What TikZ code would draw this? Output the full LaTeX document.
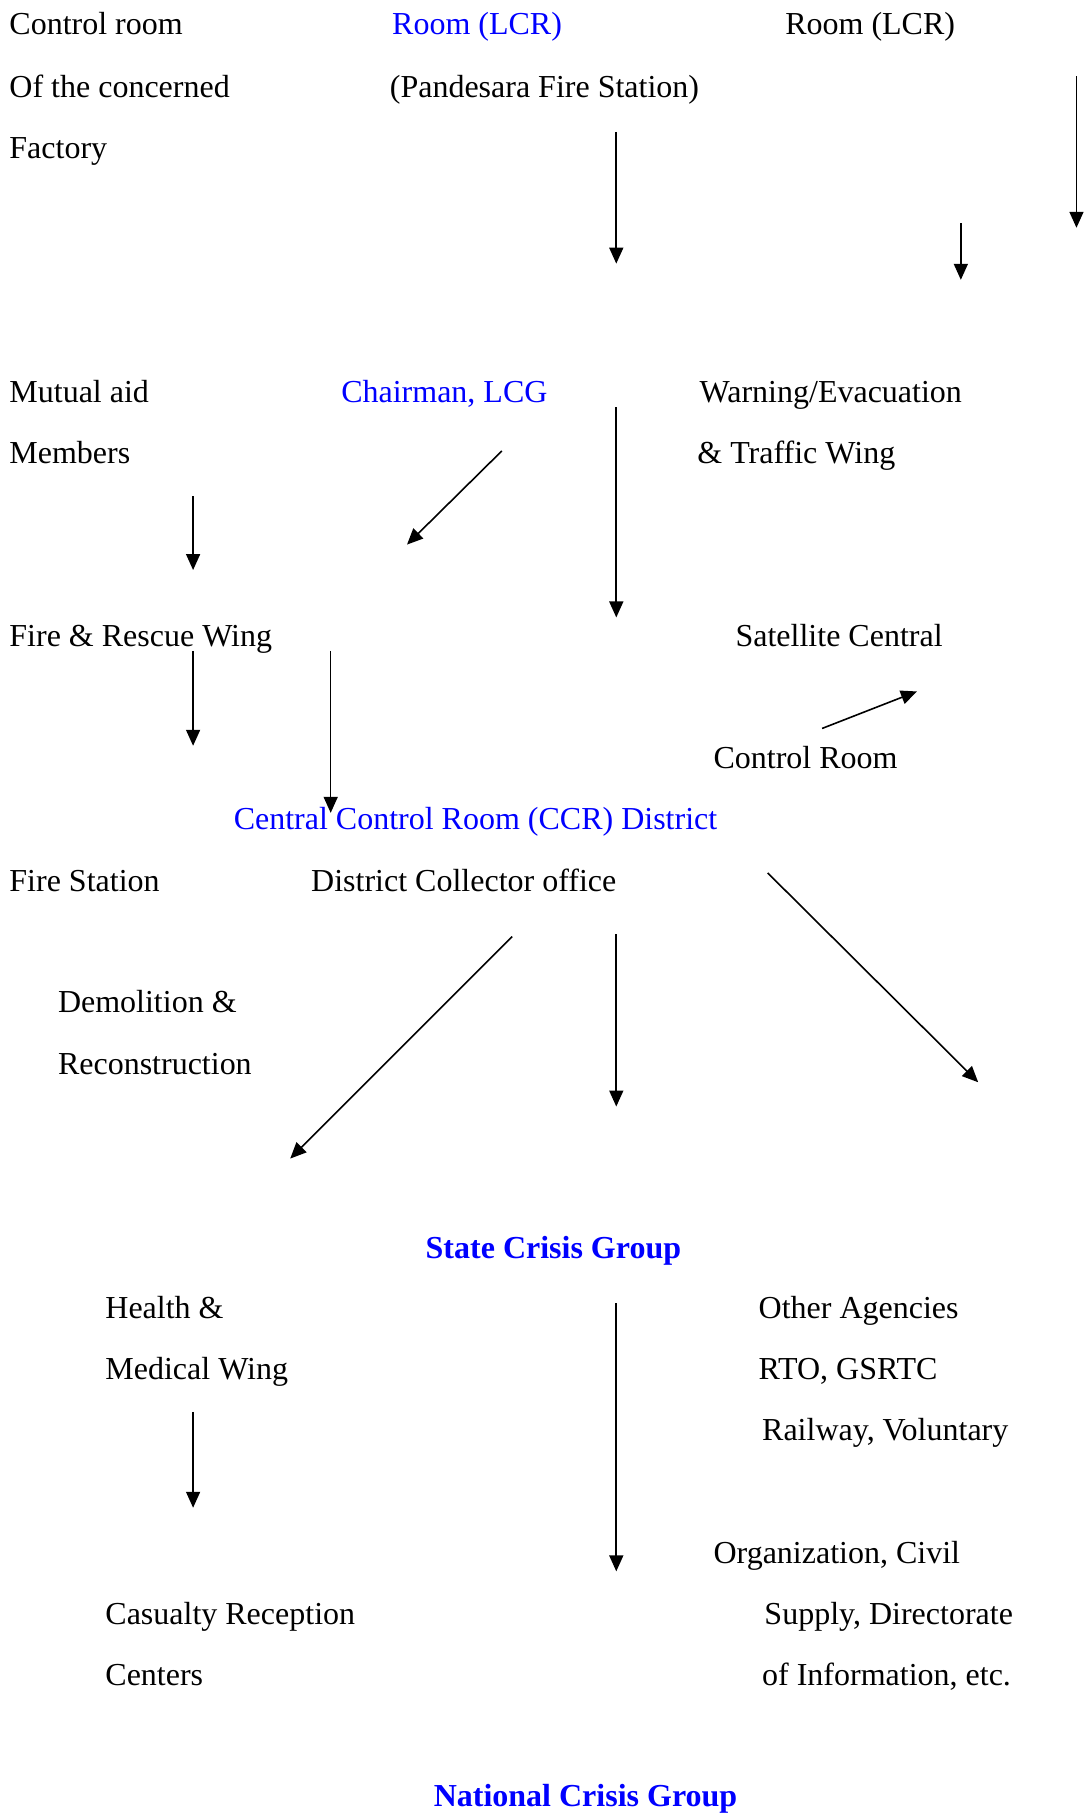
\documentclass[tikz,border=0pt]{standalone}
\usepackage{fontspec}
\setmainfont{Liberation Serif}
\usepackage{tikz}
\usetikzlibrary{positioning,arrows.meta}
\definecolor{lcrblue}{RGB}{0,0,255}
\tikzset{
  txt/.style={anchor=base west, inner sep=0pt, font=\fontsize{32}{38}\selectfont},
  blue/.style={text=lcrblue},
  crisis/.style={txt, font=\fontsize{32}{38}\selectfont\bfseries, text=lcrblue},
  fwd/.style={-{Triangle[length=16pt,width=14pt]}, line width=1.6pt},
}

\begin{document}
\begin{tikzpicture}[x=1.1564pt, y=-1.1564pt]
  \useasboundingbox (0,0) rectangle (940,1568);

  % left column
  \node[txt] (ctrl1) at (8,30) {Control room};
  \node[txt] (ctrl2) at (8,84) {Of the concerned};
  \node[txt] (ctrl3) at (8,137) {Factory};
  \node[txt] (mutual1) at (8,348) {Mutual aid};
  \node[txt] (mutual2) at (8,401) {Members};
  \node[txt] (rescue) at (8,559) {Fire \& Rescue Wing};
  \node[txt] (station) at (8,771) {Fire Station};
  \node[txt] (demol1) at (50,876) {Demolition \&};
  \node[txt] (demol2) at (50,929) {Reconstruction};
  \node[txt] (health1) at (91,1140) {Health \&};
  \node[txt] (health2) at (91,1193) {Medical Wing};
  \node[txt] (casualty1) at (91,1405) {Casualty Reception};
  \node[txt] (casualty2) at (91,1458) {Centers};

  % middle column
  \node[txt, blue] (lcr1) at (339,30) {Room (LCR)};
  \node[txt] (lcr2) at (337,84) {(Pandesara Fire Station)};
  \node[txt, blue] (chair) at (295,348) {Chairman, LCG};
  \node[txt, blue] (ccr) at (202,717) {Central Control Room (CCR) District};
  \node[txt] (collector) at (269,771) {District Collector office};
  \node[crisis] (state) at (368,1088) {State Crisis Group};
  \node[crisis] (national) at (375,1562) {National Crisis Group};

  % right column
  \node[txt] (lcr3) at (679,30) {Room (LCR)};
  \node[txt] (warn1) at (605,348) {Warning/Evacuation};
  \node[txt] (warn2) at (603,401) {\& Traffic Wing};
  \node[txt] (sat1) at (636,559) {Satellite Central};
  \node[txt] (sat2) at (617,665) {Control Room};
  \node[txt] (agency1) at (656,1140) {Other Agencies};
  \node[txt] (agency2) at (656,1193) {RTO, GSRTC};
  \node[txt] (agency3) at (659,1246) {Railway, Voluntary};
  \node[txt] (agency4) at (617,1352) {Organization, Civil};
  \node[txt] (agency5) at (661,1405) {Supply, Directorate};
  \node[txt] (agency6) at (659,1458) {of Information, etc.};

  % arrow ends
  \coordinate (p1a) at (533,114);  \coordinate (p1b) at (533,228);
  \coordinate (p2a) at (931,66);   \coordinate (p2b) at (931,197);
  \coordinate (p3a) at (831,193);  \coordinate (p3b) at (831,242);
  \coordinate (p4a) at (434,390);  \coordinate (p4b) at (352,471);
  \coordinate (p5a) at (533,352);  \coordinate (p5b) at (533,534);
  \coordinate (p6a) at (167,429);  \coordinate (p6b) at (167,493);
  \coordinate (p7a) at (167,563);  \coordinate (p7b) at (167,645);
  \coordinate (p8a) at (286,563);  \coordinate (p8b) at (286,703);
  \coordinate (p9a) at (711,630);  \coordinate (p9b) at (793,598);
  \coordinate (p10a) at (443,810); \coordinate (p10b) at (251,1002);
  \coordinate (p11a) at (533,808); \coordinate (p11b) at (533,957);
  \coordinate (p12a) at (664,755); \coordinate (p12b) at (846,936);
  \coordinate (p13a) at (533,1127); \coordinate (p13b) at (533,1359);
  \coordinate (p14a) at (167,1221); \coordinate (p14b) at (167,1304);

  \draw[fwd] (p1a) -- (p1b);
  \draw[fwd] (p2a) -- (p2b);
  \draw[fwd] (p3a) -- (p3b);
  \draw[fwd] (p4a) -- (p4b);
  \draw[fwd] (p5a) -- (p5b);
  \draw[fwd] (p6a) -- (p6b);
  \draw[fwd] (p7a) -- (p7b);
  \draw[fwd] (p8a) -- (p8b);
  \draw[fwd] (p9a) -- (p9b);
  \draw[fwd] (p10a) -- (p10b);
  \draw[fwd] (p11a) -- (p11b);
  \draw[fwd] (p12a) -- (p12b);
  \draw[fwd] (p13a) -- (p13b);
  \draw[fwd] (p14a) -- (p14b);
\end{tikzpicture}
\end{document}
